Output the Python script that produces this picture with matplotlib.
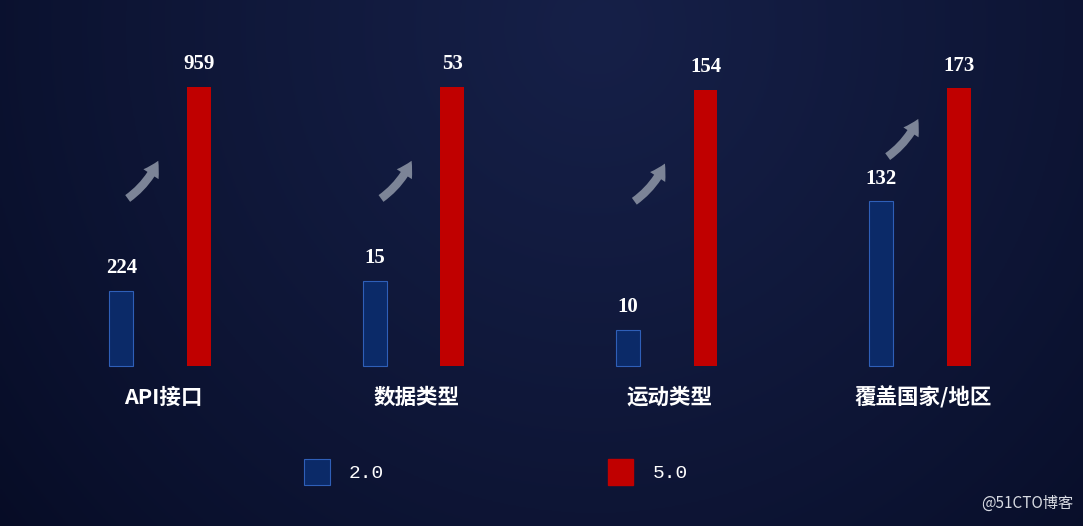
import numpy as np
import matplotlib.pyplot as plt
from matplotlib.patches import FancyArrowPatch, Patch

plt.rcParams['font.family'] = ['Noto Sans CJK SC', 'DejaVu Sans']

categories = ['API接口', '数据类型', '运动类型', '覆盖国家/地区']
labels_v2 = ['224', '15', '10', '132']
labels_v5 = ['959', '53', '154', '173']
# drawn heights as they appear in the picture (not to scale with the labels)
heights_v2 = [27, 30.5, 13, 59]
heights_v5 = [100, 100, 99, 99.5]
series_names = ['2.0', '5.0']

blue = '#0b2a68'
blue_edge = '#2f5fb8'
red = '#c00000'
arrow_color = '#7c8497'

fig = plt.figure(figsize=(10.83, 5.26), dpi=100)

# background gradient
bg = fig.add_axes([0, 0, 1, 1])
yy, xx = np.mgrid[0:1:200j, 0:1:400j]
r = np.sqrt(((xx - 0.55) / 0.75) ** 2 + ((yy - 0.05) / 1.6) ** 2)
shade = np.clip(1 - r, 0, 1) ** 0.8
c0 = np.array([5, 10, 34]) / 255
c1 = np.array([22, 32, 72]) / 255
img = c0 + (c1 - c0) * shade[..., None]
bg.imshow(img, extent=[0, 1, 0, 1], aspect='auto', origin='upper')
bg.axis('off')

ax = fig.add_axes([0, 0, 1, 1])
ax.patch.set_alpha(0)
ax.set_xlim(-0.632, 3.643)
ax.set_ylim(-57.3, 131.2)
ax.axis('off')

x = np.arange(len(categories))
off = 0.153
w = 0.094
ax.bar(x - off, heights_v2, w, color=blue, edgecolor=blue_edge, linewidth=0.8)
ax.bar(x + off, heights_v5, w, color=red, edgecolor=red, linewidth=0)

for xi, h, t in zip(x - off, heights_v2, labels_v2):
    ax.annotate(t, (xi, h), xytext=(0, 16.5), textcoords='offset points',
                ha='center', va='center', color='white', fontsize=15,
                family='Liberation Serif', fontweight='bold')
for xi, h, t in zip(x + off, heights_v5, labels_v5):
    ax.annotate(t, (xi, h), xytext=(0, 16.5), textcoords='offset points',
                ha='center', va='center', color='white', fontsize=15,
                family='Liberation Serif', fontweight='bold')

for xi, c in zip(x, categories):
    ax.annotate(c, (xi, 0), xytext=(2, -22.5), textcoords='offset points',
                ha='center', va='center', color='white', fontsize=15.5,
                fontweight='bold')

# rising arrows between the bars
arrow_base = [59.5, 59.5, 58.5, 74.5]
for xi, yb in zip(x, arrow_base):
    arr = FancyArrowPatch((xi - 0.137, yb), (xi - 0.003, yb + 15),
                          connectionstyle='arc3,rad=0.15',
                          arrowstyle='simple,head_width=13,head_length=11,tail_width=6',
                          color=arrow_color, lw=0, mutation_scale=1)
    ax.add_patch(arr)

handles = [Patch(facecolor=blue, edgecolor=blue_edge, linewidth=0.8),
           Patch(facecolor=red, edgecolor=red)]
leg = fig.legend(handles, series_names, loc='center', bbox_to_anchor=(0.458, 0.103),
                 ncol=2, frameon=False, handlelength=1.3, handleheight=1.65,
                 handletextpad=1.0, columnspacing=11.5,
                 prop={'family': 'Liberation Mono', 'size': 14})
for t in leg.get_texts():
    t.set_color('white')

fig.text(0.991, 0.043, '@51CTO博客', ha='right', va='center', color='#d8dbe3',
         fontsize=11)

fig.savefig('out.png', dpi=100)
